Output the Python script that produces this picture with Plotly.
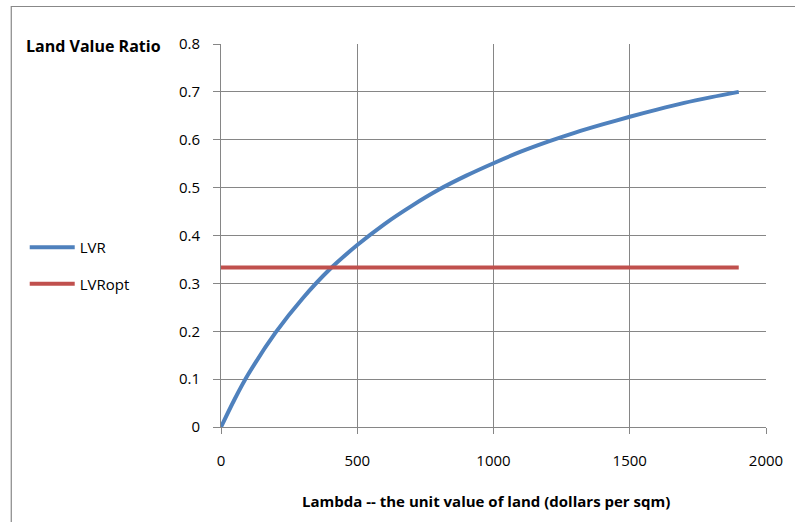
import plotly.graph_objects as go

# Data
lam = [0, 50, 100, 200, 300, 400, 500, 600, 700, 800, 900, 1000,
       1100, 1200, 1300, 1400, 1500, 1600, 1700, 1800, 1900]
lvr = [0.0, 0.058, 0.110, 0.197, 0.269, 0.330, 0.380, 0.424, 0.462, 0.496, 0.525, 0.551,
       0.575, 0.596, 0.615, 0.632, 0.648, 0.663, 0.677, 0.689, 0.700]
lvr_opt = [0.333] * len(lam)

x_ticks = [0, 500, 1000, 1500, 2000]
y_ticks = [0, 0.1, 0.2, 0.3, 0.4, 0.5, 0.6, 0.7, 0.8]
y_labels = ["0", "0.1", "0.2", "0.3", "0.4", "0.5", "0.6", "0.7", "0.8"]

FONT = "Open Sans, Lato, sans-serif"
GRID = "#868686"

W, H = 795, 522
L, T = 221, 44
PR, PB = 768, 427
R, B = W - PR, H - PB
pw, ph = PR - L, PB - T

def px_x(p):
    return (p - L) / pw

def px_y(p):
    return (PB - p) / ph

fig = go.Figure()
fig.add_trace(go.Scatter(x=lam, y=lvr, mode="lines", name="LVR",
                         legendgroup="a",
                         line=dict(color="#4F81BD", width=4, shape="spline",
                                   smoothing=0.8)))
fig.add_trace(go.Scatter(x=lam, y=lvr_opt, mode="lines", name="LVRopt",
                         legendgroup="b",
                         line=dict(color="#C0504D", width=4)))

fig.update_layout(
    width=W, height=H,
    margin=dict(l=L, r=R, t=T, b=B),
    paper_bgcolor="white", plot_bgcolor="white",
    font=dict(family=FONT, size=15, color="#000000"),
    showlegend=True,
    legend=dict(x=px_x(24), y=px_y(231), xanchor="left", yanchor="top",
                traceorder="grouped", tracegroupgap=14, itemwidth=45,
                font=dict(size=15), bgcolor="rgba(0,0,0,0)"),
    xaxis=dict(range=[0, 2000], tickvals=x_ticks, ticktext=[str(v) for v in x_ticks],
               showgrid=True, gridcolor=GRID, gridwidth=1,
               showline=True, linecolor=GRID, linewidth=1,
               ticks="outside", ticklen=6, tickcolor=GRID,
               ticklabelstandoff=14, zeroline=False,
               tickfont=dict(size=15)),
    yaxis=dict(range=[0, 0.8], tickvals=y_ticks, ticktext=y_labels,
               showgrid=True, gridcolor=GRID, gridwidth=1,
               showline=True, linecolor=GRID, linewidth=1,
               ticks="outside", ticklen=7, tickcolor=GRID,
               ticklabelstandoff=10,
               zeroline=False, tickfont=dict(size=15)),
    shapes=[dict(type="rect", xref="paper", yref="paper",
                 x0=px_x(10.5), x1=px_x(900), y0=px_y(700), y1=px_y(6.5),
                 line=dict(color="#888888", width=1.2), fillcolor="rgba(0,0,0,0)",
                 layer="below")],
    annotations=[
        dict(text="<b>Land Value Ratio</b>", xref="paper", yref="paper",
             x=px_x(23), y=px_y(46), xanchor="left", yanchor="middle",
             showarrow=False, font=dict(size=16)),
        dict(text="<b>Lambda -- the unit value of land (dollars per sqm)</b>",
             xref="paper", yref="paper", x=px_x(487), y=px_y(501),
             xanchor="center", yanchor="middle", showarrow=False,
             font=dict(size=15)),
    ],
)

fig.write_html("out.html",
               config={"displayModeBar": False},
               post_script="document.body.style.margin='0';document.body.style.overflow='hidden';")
